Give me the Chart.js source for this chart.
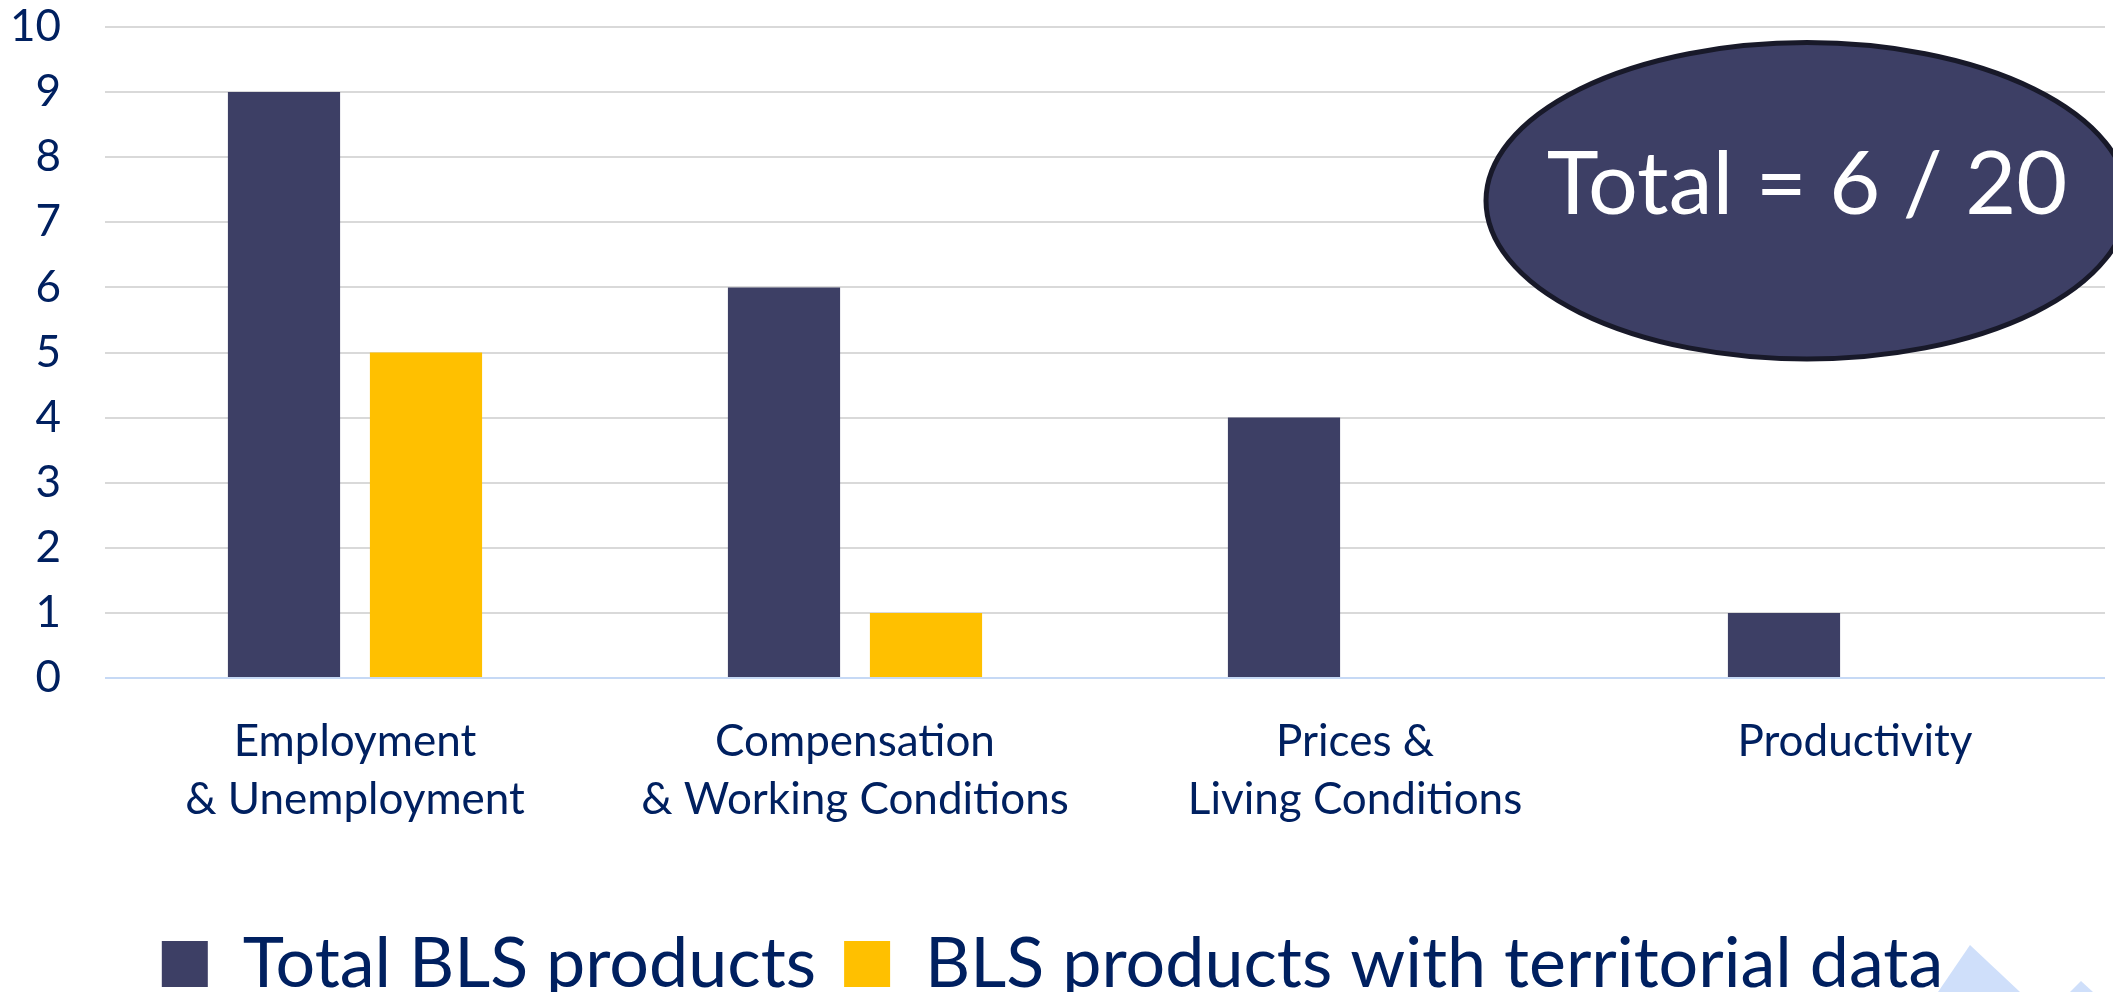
<!DOCTYPE html>
<html>
<head>
<meta charset="utf-8">
<script src="https://cdn.jsdelivr.net/npm/chart.js@4.4.1/dist/chart.umd.min.js"></script>
<style>
html,body{margin:0;padding:0;background:#fff;overflow:hidden;}
#wrap{width:2113px;height:992px;position:relative;}
</style>
</head>
<body>
<div id="wrap"><canvas id="chart" width="2113" height="992"></canvas></div>
<script>
// data
var categories = [
    ['Employment', '& Unemployment'],
    ['Compensation', '& Working Conditions'],
    ['Prices &', 'Living Conditions'],
    ['Productivity']
];
var totalProducts = [9, 6, 4, 1];
var territorialProducts = [5, 1, 0, 0];
var seriesNames = ['Total BLS products', 'BLS products with territorial data'];
var yMin = 0, yMax = 10, yStep = 1;
var calloutText = 'Total = 6 / 20';

var navy = '#002060';
var darkBar = '#3D3F65';
var yellowBar = '#FFC000';

// oval with the total, placed in scale units
var calloutPlugin = {
    id: 'callout',
    afterDatasetsDraw: function(chart){
        var ctx = chart.ctx;
        var area = chart.chartArea;
        var y = chart.scales.y;
        var w = area.right - area.left;
        var cx = area.left + w * 0.851;
        var cy = y.getPixelForValue(7.33);
        var rx = w * 0.1605;
        var ry = y.getPixelForValue(0) - y.getPixelForValue(2.43);
        ctx.save();
        ctx.beginPath();
        ctx.ellipse(cx, cy, rx, ry, 0, 0, Math.PI * 2);
        ctx.fillStyle = darkBar;
        ctx.fill();
        ctx.lineWidth = 5;
        ctx.strokeStyle = '#181929';
        ctx.stroke();
        ctx.fillStyle = '#FFFFFF';
        ctx.font = '88px Lato';
        ctx.textAlign = 'center';
        ctx.textBaseline = 'middle';
        ctx.fillText(calloutText, cx, y.getPixelForValue(7.57));
        ctx.restore();
    }
};

// light blue corner shapes from the slide background
var cornerPlugin = {
    id: 'corner',
    afterDraw: function(chart){
        var ctx = chart.ctx;
        var W = chart.width, H = chart.height;
        ctx.save();
        ctx.fillStyle = '#CFDFFA';
        ctx.beginPath();
        ctx.moveTo(W - 143, H - 47);
        ctx.lineTo(W - 175, H);
        ctx.lineTo(W - 93, H);
        ctx.closePath();
        ctx.fill();
        ctx.beginPath();
        ctx.moveTo(W - 32, H - 11);
        ctx.lineTo(W - 43, H);
        ctx.lineTo(W - 20, H);
        ctx.closePath();
        ctx.fill();
        ctx.restore();
    }
};

var chart = new Chart(document.getElementById('chart'), {
    type: 'bar',
    data: {
        labels: categories,
        datasets: [
            {label: seriesNames[0], data: totalProducts, backgroundColor: darkBar, borderWidth: 0},
            {label: seriesNames[1], data: territorialProducts, backgroundColor: yellowBar, borderWidth: 0}
        ]
    },
    options: {
        responsive: false,
        animation: false,
        devicePixelRatio: 1,
        layout: {padding: {left: 0, right: 8, top: 0, bottom: -17}},
        datasets: {bar: {barPercentage: 0.79, categoryPercentage: 0.568}},
        scales: {
            x: {
                grid: {display: false},
                border: {display: false},
                ticks: {color: navy, font: {family: 'Lato', size: 44, lineHeight: 1.32}, padding: 27, maxRotation: 0, autoSkip: false},
                afterFit: function(s){ s.height = 223; }
            },
            y: {
                min: yMin, max: yMax,
                border: {display: false},
                grid: {
                    drawTicks: false,
                    lineWidth: 2,
                    color: function(c){ return c.tick && c.tick.value === 0 ? '#C6D9F5' : '#D9D9D9'; }
                },
                ticks: {stepSize: yStep, color: navy, font: {family: 'Lato', size: 44}, padding: 44},
                afterFit: function(s){
                    s.width = 105;
                    s.paddingTop = 27;
                    s.paddingBottom = 0;
                }
            }
        },
        plugins: {
            legend: {
                position: 'bottom',
                labels: {boxWidth: 46, boxHeight: 46, padding: 28, color: navy, font: {family: 'Lato', size: 70}}
            },
            tooltip: {enabled: false}
        }
    },
    plugins: [calloutPlugin, cornerPlugin]
});
</script>
</body>
</html>
